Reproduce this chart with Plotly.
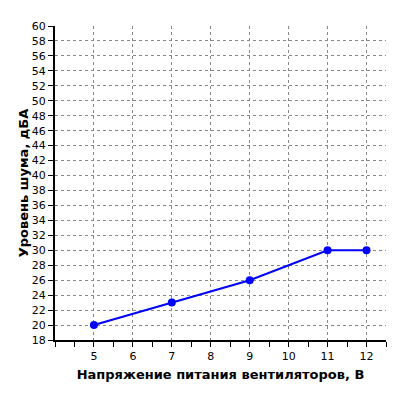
import plotly.graph_objects as go

voltage = [5, 7, 9, 11, 12]
noise = [20, 23, 26, 30, 30]
x_ticks = [5, 6, 7, 8, 9, 10, 11, 12]

fig = go.Figure(go.Scatter(x=voltage, y=noise, mode="lines+markers",
    line=dict(color="#0000ff", width=2), marker=dict(color="#0000ff", size=8)))

fnt = dict(family="DejaVu Sans", size=11, color="black")
fig.update_layout(width=400, height=400, margin=dict(l=47, r=22, t=12, b=68),
    plot_bgcolor="white", paper_bgcolor="white", showlegend=False, font=fnt)
fig.update_xaxes(range=[4, 12.5], tickvals=x_ticks, showline=True, linecolor="black", linewidth=2,
    ticks="outside", ticklen=5, tickcolor="black", showgrid=True, gridcolor="#888", griddash="dot", gridwidth=1,
    minor=dict(dtick=0.5, tick0=4, ticks="outside", ticklen=5, tickcolor="black", showgrid=False),
    tickfont=dict(family="DejaVu Sans", size=11, color="black"), zeroline=False,
    title=dict(text="<b>Напряжение питания вентиляторов, В</b>", font=dict(family="DejaVu Sans", size=13), standoff=8))
fig.update_yaxes(range=[18, 60], dtick=2, showline=True, linecolor="black", linewidth=2,
    ticks="outside", ticklen=5, tickcolor="black", showgrid=True, gridcolor="#888", griddash="dot", gridwidth=1,
    tickfont=dict(family="DejaVu Sans", size=11, color="black"), zeroline=False,
    title=dict(text="<b>Уровень шума, дБА</b>", font=dict(family="DejaVu Sans", size=13), standoff=0))
fig.write_html("out.html")
